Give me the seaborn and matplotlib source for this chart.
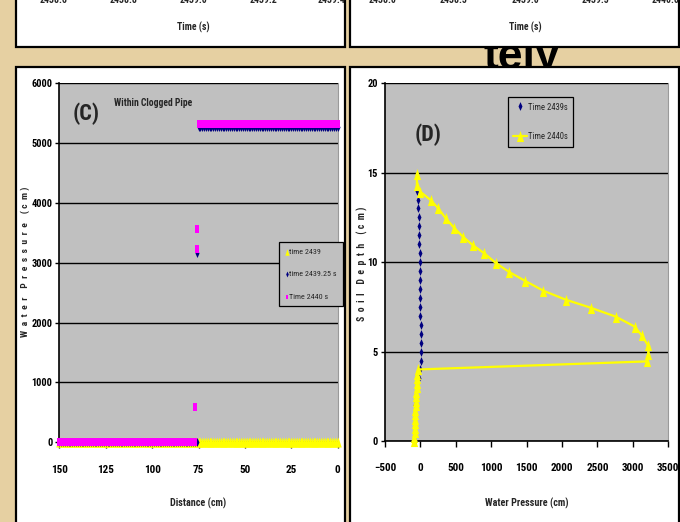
import matplotlib
matplotlib.use("Agg")
import matplotlib.pyplot as plt
from matplotlib.patches import Rectangle
from matplotlib.path import Path
from matplotlib.transforms import Bbox, TransformedBbox
from matplotlib import font_manager as fm
import seaborn as sns

# ---------------- data : panel (C) "Within Clogged Pipe" ----------------
c_xticks = [150, 125, 100, 75, 50, 25, 0]
c_yticks = [0, 1000, 2000, 3000, 4000, 5000, 6000]
grid_full = list(range(0, 151))          # distance grid (cm)
grid_left = list(range(76, 151))         # clogged side
grid_right = list(range(0, 76))          # open side

t2439_dist = grid_full
t2439_pres = [0] * len(grid_full)

t243925_dist = grid_left + [76] + grid_right
t243925_pres = [0] * len(grid_left) + [3170] + [5270] * len(grid_right)

t2440_dist = list(range(77, 151)) + [77, 76, 76] + grid_right
t2440_pres = [0] * 74 + [585, 3232, 3567] + [5320] * len(grid_right)

# ---------------- data : panel (D) soil profile ----------------
d_xticks = [-500, 0, 500, 1000, 1500, 2000, 2500, 3000, 3500]
d_yticks = [0, 5, 10, 15, 20]

d2439_depth = [0, 0.5, 1, 1.5, 2, 2.5, 3, 3.5, 4, 4.5, 5, 5.5, 6, 6.5, 7,
               7.5, 8, 8.5, 9, 9.5, 10, 10.5, 11, 11.5, 12, 12.5, 13, 13.5, 14]
d2439_pres = [-80, -78, -75, -72, -70, -65, -55, -25, -12, 5, 8, 8, 5, 3, 0,
              -2, -4, -5, -7, -8, -10, -12, -15, -18, -22, -27, -33, -40, -48]

d2440_depth = [0, 0.25, 0.5, 0.75, 1.0, 1.25, 1.5, 1.75, 2.0, 2.25, 2.5, 2.75,
               3.0, 3.25, 3.5, 3.75, 4.0,
               4.45, 4.85, 5.35, 5.9, 6.4, 6.95, 7.45, 7.9, 8.4, 8.95, 9.45,
               9.95, 10.5, 10.95, 11.4, 11.9, 12.45, 13.0, 13.45, 13.95,
               14.3, 14.95]
d2440_pres = [-85, -84, -82, -80, -78, -76, -73, -70, -67, -64, -61, -58,
              -55, -52, -48, -42, -28,
              3195, 3220, 3212, 3127, 3023, 2760, 2406, 2053, 1737, 1479, 1253,
              1065, 900, 740, 607, 480, 358, 254, 151, -5,
              -50, -50]

top_left_ticks = ["2438.6", "2438.8", "2439.0", "2439.2", "2439.4"]
top_right_ticks = ["2438.0", "2438.5", "2439.0", "2439.5", "2440.0"]

# ---------------- styling ----------------
sns.set_style("white")
names = {f.name for f in fm.fontManager.ttflist}
STRETCH = "normal"
NARROW = "Liberation Sans"
for cand in ("Liberation Sans Narrow", "Arial Narrow", "Roboto Condensed",
             "Open Sans Condensed", "Noto Sans Condensed"):
    if cand in names:
        NARROW = cand
        break
else:
    if any(f.name == "DejaVu Sans" and f.stretch in ("condensed", 500, "semi-condensed")
           for f in fm.fontManager.ttflist):
        NARROW = "DejaVu Sans"
        STRETCH = "condensed"
plt.rcParams["font.family"] = [NARROW, "DejaVu Sans"]
plt.rcParams["font.weight"] = "bold"
plt.rcParams["font.stretch"] = STRETCH

W, H = 680, 522
BG = "#e6d0a2"
GRAY = "#c0c0c0"
YEL = "#ffff00"
NAVY = "#000080"
MAG = "#ff00ff"

fig = plt.figure(figsize=(W / 100, H / 100), dpi=100, facecolor=BG)


def fx(x):
    return x / W


def fy(y):
    return 1 - y / H


def panel(x0, y0, x1, y1):
    fig.add_artist(Rectangle((fx(x0), fy(y1)), (x1 - x0) / W, (y1 - y0) / H,
                             transform=fig.transFigure, facecolor="white",
                             edgecolor="black", lw=1.6, zorder=0.5))


# background word, only its middle strip shows between the panels
tely = fig.text(fx(483), fy(69), "tely", fontsize=32, fontweight="bold",
                family="Liberation Sans", stretch="normal", va="baseline",
                ha="left", color="black", zorder=0.2)
tely.set_clip_box(TransformedBbox(Bbox([[fx(350), fy(67)], [fx(679), fy(47)]]),
                                  fig.transFigure))

panel(16, -20, 345, 47)
panel(350, -20, 679, 47)
panel(16, 67, 345, 560)
panel(350, 67, 679, 560)

# remnants of the upper charts
for xs, labs in (([54, 124, 193, 263, 332], top_left_ticks),
                 ([383, 453, 525, 595, 666], top_right_ticks)):
    for x, lab in zip(xs, labs):
        fig.text(fx(x), fy(3), lab, fontsize=7, ha="center", va="baseline",
                 zorder=3)
fig.text(fx(193), fy(27), "Time (s)", fontsize=7, ha="center", va="center", zorder=3)
fig.text(fx(525), fy(27), "Time (s)", fontsize=7, ha="center", va="center", zorder=3)

tri = Path([(-0.65, -1), (0.65, -1), (0, 1), (-0.65, -1)])
dia = Path([(0, 1), (0.45, 0), (0, -1), (-0.45, 0), (0, 1)])
sqr = Path([(-0.55, -1), (0.55, -1), (0.55, 1), (-0.55, 1), (-0.55, -1)])


def style_axes(ax):
    ax.set_facecolor(GRAY)
    ax.grid(False)
    ax.yaxis.grid(True, color="black", lw=1.0)
    ax.set_axisbelow(True)
    for s in ("left", "bottom"):
        ax.spines[s].set_color("black")
        ax.spines[s].set_linewidth(1.2)
        ax.spines[s].set_visible(True)
    ax.spines["top"].set_visible(False)
    ax.spines["right"].set_visible(True)
    ax.spines["right"].set_color("#9a9a9a")
    ax.spines["right"].set_linewidth(0.8)
    ax.tick_params(axis="x", direction="out", length=4, width=1, pad=12,
                   labelsize=8, bottom=True, colors="black")
    ax.tick_params(axis="y", direction="out", length=3, width=1, pad=2,
                   labelsize=7.5, left=True, colors="black")
    ax.set_xlabel("")
    ax.set_ylabel("")


# ---------------- panel C ----------------
axC = fig.add_axes([fx(59.3), fy(442.3), (337.7 - 59.3) / W, (442.3 - 83.3) / H])
axC.set_zorder(1)
sns.scatterplot(x=t2439_dist, y=t2439_pres, marker=tri, color=YEL, s=52,
                linewidth=0, label="time 2439", ax=axC, clip_on=False, zorder=3)
sns.scatterplot(x=t243925_dist, y=t243925_pres, marker=dia, color=NAVY, s=42,
                linewidth=0, label="time 2439.25 s", ax=axC, clip_on=False, zorder=3)
sns.scatterplot(x=t2440_dist, y=t2440_pres, marker=sqr, color=MAG, s=30,
                linewidth=0, label="Time 2440 s", ax=axC, clip_on=False, zorder=3)
axC.set_xlim(150, 0)
axC.set_ylim(0, 6000)
axC.set_xticks(c_xticks)
axC.set_yticks(c_yticks)
style_axes(axC)
h, l = axC.get_legend_handles_labels()
legC = axC.legend(h, l, loc="upper left", bbox_to_anchor=(fx(279), fy(242)),
                  bbox_transform=fig.transFigure, borderaxespad=0, frameon=True,
                  fancybox=False, shadow=False, facecolor=GRAY, edgecolor="black",
                  framealpha=1,
                  prop={"size": 5.8, "weight": "normal", "family": [NARROW, "DejaVu Sans"],
                        "stretch": STRETCH},
                  handlelength=0.45, handletextpad=0.1, labelspacing=2.0,
                  borderpad=0.75, scatterpoints=1, markerscale=0.65)
legC.get_frame().set_linewidth(0.9)
axC.text(0.047, 0.915, "(C)", transform=axC.transAxes, fontsize=16,
         fontweight="bold", ha="left", va="center")
axC.text(0.195, 0.945, "Within Clogged Pipe", transform=axC.transAxes,
         fontsize=6.9, fontweight="bold", ha="left", va="center")
fig.text(fx(198), fy(503), "Distance (cm)", fontsize=7.3, ha="center",
         va="center", zorder=3)
fig.text(fx(25), fy(262), "W  a  t  e  r    P  r  e  s  s  u  r  e    ( c  m )",
         fontsize=6.8, rotation=90, ha="center", va="center", zorder=3)

# ---------------- panel D ----------------
axD = fig.add_axes([fx(385), fy(441), (668.3 - 385) / W, (441 - 83.3) / H])
axD.set_zorder(1)
sns.scatterplot(x=d2439_pres, y=d2439_depth, marker=dia, color=NAVY, s=40,
                linewidth=0, label="Time 2439s", ax=axD, clip_on=False, zorder=3)
sns.lineplot(x=d2440_pres, y=d2440_depth, sort=False, estimator=None,
             color=YEL, lw=1.6, marker=tri, markersize=8, markeredgewidth=0,
             markerfacecolor=YEL, label="Time 2440s", ax=axD, clip_on=False,
             zorder=4)
axD.set_xlim(-500, 3500)
axD.set_ylim(0, 20)
axD.set_xticks(d_xticks)
axD.set_yticks(d_yticks)
style_axes(axD)
h, l = axD.get_legend_handles_labels()
legD = axD.legend(h, l, loc="upper left", bbox_to_anchor=(fx(507.7), fy(96.7)),
                  bbox_transform=fig.transFigure, borderaxespad=0, frameon=True,
                  fancybox=False, shadow=False, facecolor=GRAY, edgecolor="black",
                  framealpha=1,
                  prop={"size": 6.2, "weight": "normal", "family": [NARROW, "DejaVu Sans"],
                        "stretch": STRETCH},
                  handlelength=1.6, handletextpad=0.15, labelspacing=2.3,
                  borderpad=0.6, handleheight=1.4, scatterpoints=1)
legD.get_frame().set_linewidth(0.9)
axD.text(0.105, 0.855, "(D)", transform=axD.transAxes, fontsize=16,
         fontweight="bold", ha="left", va="center")
fig.text(fx(527), fy(503), "Water Pressure (cm)", fontsize=7.3, ha="center",
         va="center", zorder=3)
fig.text(fx(362), fy(264), "S  o  i  l    D  e  p  t  h    ( c  m )", fontsize=7,
         rotation=90, ha="center", va="center", zorder=3)

fig.savefig("out.png", dpi=100, facecolor=BG)
